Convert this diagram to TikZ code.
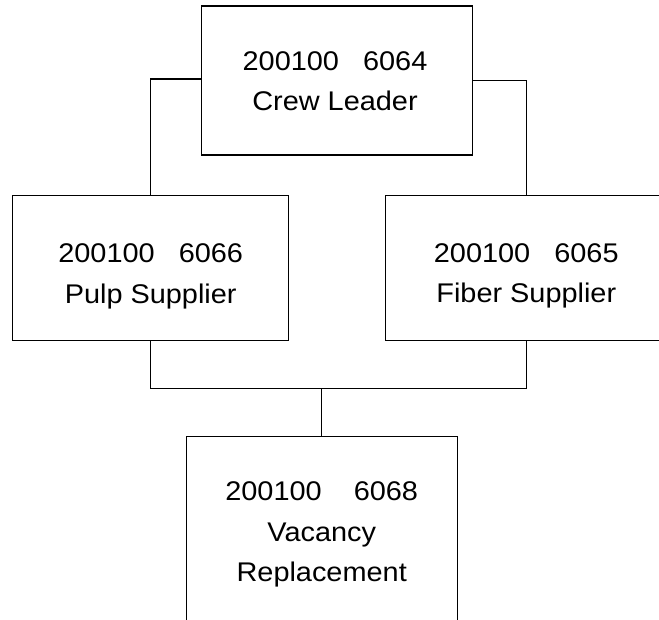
\documentclass[tikz,border=0pt]{standalone}
\usepackage{fontspec}
\setmainfont{Liberation Sans}[FakeStretch=1.07]
\begin{document}
\begin{tikzpicture}[x=1pt,y=-1pt,
  post/.style={draw=black, line width=1.1pt, inner sep=0pt},
  caption/.style={align=center, inner sep=0pt, anchor=north,
    font={\fontsize{27}{40.5}\selectfont}},
  wire/.style={draw=black, line width=1.1pt}]
  \useasboundingbox (0,0) rectangle (659,619);
  \clip (0,0) rectangle (659,619);

  % position boxes
  \node[post, minimum width=271, minimum height=149] (lead) at (337,80.5) {};
  \node[post, minimum width=276, minimum height=144.3] (pulp) at (150.7,268) {};
  \node[post, minimum width=281, minimum height=144.3] (fiber) at (526.3,268) {};
  \node[post, minimum width=271.3, minimum height=195] (vac) at (321.7,534.2) {};

  % their captions
  \node[caption] (leadT) at (335,51) {200100\ \ \ 6064\\Crew Leader};
  \node[caption] (pulpT) at (150.7,243.5) {200100\ \ \ 6066\\Pulp Supplier};
  \node[caption] (fiberT) at (526.3,243) {200100\ \ \ 6065\\Fiber Supplier};
  \node[caption] (vacT) at (321.7,481.5) {200100\ \ \ \ 6068\\Vacancy\\Replacement};

  % links from the crew leader down to the two suppliers
  \draw[wire] ([yshift=1.5]lead.west) -| (pulp.north);
  \draw[wire] (lead.east) -| (fiber.north);

  % shared bus joining both suppliers to the vacancy
  \coordinate (bus) at (0,388.3);
  \draw[wire] (pulp.south) -- (pulp.south |- bus) -| (fiber.south);
  \draw[wire] (vac.north) -- (vac.north |- bus);
\end{tikzpicture}
\end{document}
